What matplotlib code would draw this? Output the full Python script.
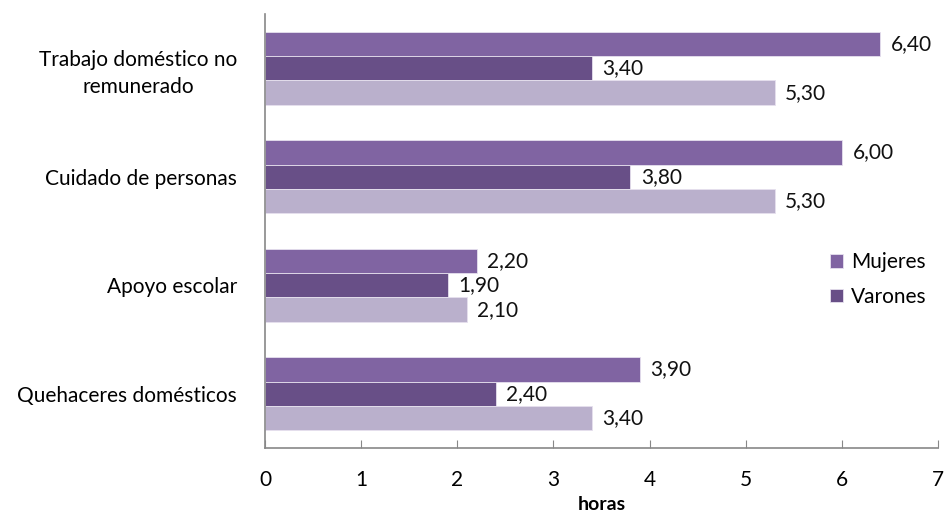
import matplotlib
matplotlib.use("Agg")
import matplotlib.pyplot as plt
import numpy as np

categories = ["Quehaceres domésticos", "Apoyo escolar", "Cuidado de personas",
              "Trabajo doméstico no\nremunerado"]
mujeres = [3.90, 2.20, 6.00, 6.40]
varones = [2.40, 1.90, 3.80, 3.40]
total = [3.40, 2.10, 5.30, 5.30]
series_names = ["Mujeres", "Varones", "Total"]
colors = ["#8064a2", "#684f87", "#bab0cc"]
xticks = [0, 1, 2, 3, 4, 5, 6, 7]

plt.rcParams['font.family'] = ['Lato', 'DejaVu Sans']

fig = plt.figure(figsize=(9.45, 5.11), dpi=100)
ax = fig.add_axes([265/945, 1-448/511, (938-265)/945, (448-14)/511])

y = np.arange(len(categories))
h = 0.225
offsets = [h, 0, -h]
handles = []
for vals, off, c, name in zip([mujeres, varones, total], offsets, colors, series_names):
    bars = ax.barh(y + off, vals, height=h, color=c, edgecolor="#e6e0ee",
                   linewidth=0.6, label=name)
    handles.append(bars)
    for b, v in zip(bars, vals):
        ax.text(v + 0.11, b.get_y() + b.get_height()/2,
                f"{v:.2f}".replace(".", ","), va="center", ha="left",
                fontsize=15, color="#111111")

ax.set_xlim(0, 7)
ax.set_ylim(-0.5, 3.5)
ax.set_yticks(y)
ax.set_yticklabels(categories, fontsize=15, ha="right", multialignment="center",
                   linespacing=1.45)
ax.tick_params(axis="y", length=0, pad=20)
ax.set_xticks(xticks)
ax.set_xticklabels([str(t) for t in xticks], fontsize=15)
ax.tick_params(axis="x", direction="in", length=6, pad=16, color="#888888")
ax.set_xlabel("horas", fontsize=14, fontweight="bold", labelpad=4)

for s in ["top", "right"]:
    ax.spines[s].set_visible(False)
for s in ["left", "bottom"]:
    ax.spines[s].set_color("#888888")
    ax.spines[s].set_linewidth(1.2)

leg = ax.legend(handles=handles[:2], loc="upper left",
                bbox_to_anchor=((822-265)/673, 1-(244-14)/434),
                frameon=False, fontsize=15, handlelength=0.6, handleheight=0.6,
                handletextpad=0.4, labelspacing=0.7, borderaxespad=0)

fig.savefig("out.png", dpi=100)
